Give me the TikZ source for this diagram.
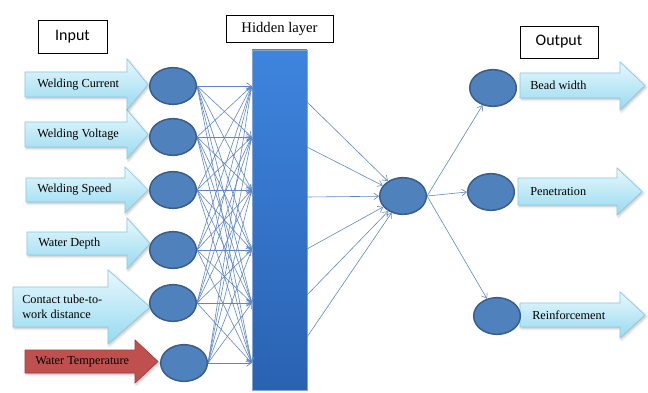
\documentclass[tikz,border=0pt]{standalone}
\usepackage{fontspec}
\setmainfont{Liberation Serif}
\newfontfamily\boxfont{Carlito}
\usepackage{tikz}
\usetikzlibrary{shapes.geometric}
\usetikzlibrary{arrows.meta}
\usetikzlibrary{shadows.blur}

\definecolor{nodeblue}{RGB}{79,129,189}
\definecolor{nodeedge}{RGB}{56,93,138}
\definecolor{linkblue}{RGB}{95,135,200}
\definecolor{arrowtop}{RGB}{232,248,253}
\definecolor{arrowbot}{RGB}{150,218,240}
\definecolor{arrowedge}{RGB}{140,200,225}
\definecolor{tempred}{RGB}{192,80,77}

\tikzset{
    neuron/.style={ellipse, draw=nodeedge, line width=1.1pt, fill=nodeblue, minimum width=35pt, minimum height=27.5pt, inner sep=0pt},
    link/.style={draw=linkblue, line width=0.45pt, -{Straight Barb[length=3.5pt,width=5pt]}},
    inarrow/.style={draw=arrowedge, line width=0.5pt, top color=arrowtop, bottom color=arrowbot, blur shadow={shadow xshift=1pt, shadow yshift=-1.2pt, shadow opacity=25}},
    redarrow/.style={draw=tempred!80!black, line width=0.5pt, fill=tempred, blur shadow={shadow xshift=1pt, shadow yshift=-1.2pt, shadow opacity=25}},
    arrowlabel/.style={anchor=west, inner sep=0pt, font=\rmfamily\fontsize{9.2}{10}\selectfont, align=left},
    titlebox/.style={draw=black, line width=0.6pt, inner sep=0pt}
}

\begin{document}
\begin{tikzpicture}[x=0.75pt,y=0.75pt,yscale=-1]
        \useasboundingbox (0,0) rectangle (648,392);

        %Title boxes
        \node[titlebox, minimum width=51.75pt, minimum height=24.75pt, font=\boxfont\fontsize{12}{14}\selectfont] (inbox) at (72.5,36.5) {Input};
        \node[titlebox, minimum width=80.25pt, minimum height=20.25pt, font=\rmfamily\fontsize{11}{13}\selectfont] (hidbox) at (279.5,28.5) {Hidden layer};
        \node[titlebox, minimum width=58.5pt, minimum height=24pt, font=\boxfont\fontsize{12}{14}\selectfont] (outbox) at (559,42) {Output};

        %Shape: Right Arrow (inputs)
        \draw[inarrow] (25,72) -- (127,72) -- (127,59) -- (148,84.5) -- (127,110) -- (127,97) -- (25,97) -- cycle;
        \draw[inarrow] (25,122) -- (127,122) -- (127,110) -- (148,134.5) -- (127,159) -- (127,147) -- (25,147) -- cycle;
        \draw[inarrow] (26,178) -- (125,178) -- (125,167) -- (148,190) -- (125,213) -- (125,202) -- (26,202) -- cycle;
        \draw[inarrow] (27,232) -- (127,232) -- (127,218) -- (150,243.5) -- (127,269) -- (127,255) -- (27,255) -- cycle;
        \draw[inarrow] (13,287) -- (108,287) -- (108,270) -- (150,307) -- (108,344) -- (108,327) -- (13,327) -- cycle;
        \draw[redarrow] (25,350) -- (135,350) -- (135,340) -- (158,361.5) -- (135,383) -- (135,373) -- (25,373) -- cycle;

        %Input labels
        \node[arrowlabel] (lcur) at (37,84.5) {Welding Current};
        \node[arrowlabel] (lvol) at (37,134.5) {Welding Voltage};
        \node[arrowlabel] (lspd) at (37,190) {Welding Speed};
        \node[arrowlabel] (ldep) at (38,243.5) {Water Depth};
        \node[arrowlabel] (ldis) at (22,307) {Contact tube-to-\\[1pt]work distance};
        \node[arrowlabel] (ltmp) at (35,361.5) {Water Temperature};

        %Shape: Right Arrow (outputs)
        \draw[inarrow] (520,73) -- (620,73) -- (620,62) -- (645,85.5) -- (620,110) -- (620,98) -- (520,98) -- cycle;
        \draw[inarrow] (518,178) -- (617,178) -- (617,168) -- (642,191.5) -- (617,215) -- (617,205) -- (518,205) -- cycle;
        \draw[inarrow] (520,303) -- (620,303) -- (620,292) -- (645,315) -- (620,338) -- (620,327) -- (520,327) -- cycle;

        %Output labels
        \node[arrowlabel] (lbead) at (530,85.5) {Bead width};
        \node[arrowlabel] (lpen) at (530,191.5) {Penetration};
        \node[arrowlabel] (lrein) at (532,315) {Reinforcement};

        %Hidden layer bar
        \node[draw=nodeblue!70!white, line width=0.5pt, top color={rgb,255:red,62;green,132;blue,222}, bottom color={rgb,255:red,42;green,98;blue,178}, minimum width=41.25pt, minimum height=255pt, inner sep=0pt] (hid) at (279.5,220) {};

        %Shape: Ellipse (input neurons)
        \node[neuron] (in1) at (173,86) {};
        \node[neuron] (in2) at (173,137) {};
        \node[neuron] (in3) at (173,190) {};
        \node[neuron] (in4) at (173,250) {};
        \node[neuron] (in5) at (173,303) {};
        \node[neuron] (in6) at (184,363) {};

        %Shape: Ellipse (output side)
        \node[neuron] (mid) at (403,196) {};
        \node[neuron] (out1) at (493,88) {};
        \node[neuron] (out2) at (491,192) {};
        \node[neuron] (out3) at (497,316) {};

        %Straight Lines: inputs to hidden layer
        \foreach \i in {1,...,6}
            \foreach \j in {1,...,6}
                \draw[link] (in\i.east) -- (hid.west |- in\j);

        %Straight Lines: hidden layer to middle neuron
        \foreach \y [count=\k] in {102,147,197,249,295,337}
            \coordinate (hr\k) at (307,\y);
        \foreach \k in {1,...,6}
            \draw[link] (hr\k) -- (mid);

        %Straight Lines: middle neuron to outputs
        \draw[link] (mid.east) -- (out1);
        \draw[link] (mid.east) -- (out2.west);
        \draw[link] (mid.east) -- (out3);
\end{tikzpicture}
\end{document}
